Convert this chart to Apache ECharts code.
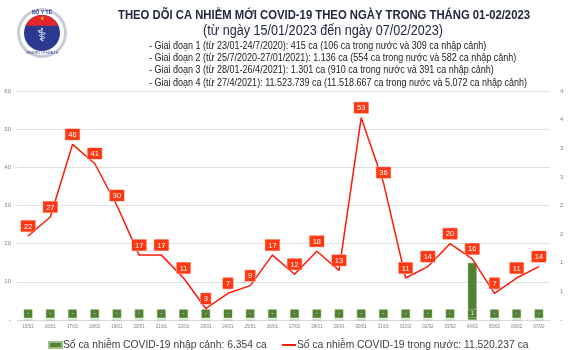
<!DOCTYPE html>
<html>
<head>
<meta charset="utf-8">
<script src="https://cdn.jsdelivr.net/npm/echarts@6/dist/echarts.min.js"></script>
<style>
  html, body { margin: 0; padding: 0; background: #fff; }
  #chart { width: 570px; height: 350px; }
</style>
</head>
<body>
<div id="chart"></div>
<script>
// ngày trong kỳ theo dõi
const days = ['15/01', '16/01', '17/01', '18/01', '19/01', '20/01', '21/01', '22/01', '23/01', '24/01', '25/01', '26/01',
  '27/01', '28/01', '29/01', '30/01', '31/01', '01/02', '02/02', '03/02', '04/02', '05/02', '06/02', '07/02']
// ca trong nước (trục trái)
const domestic = [22, 27, 46, 41, 30, 17, 17, 11, 3, 7, 9, 17, 12, 18, 13, 53, 36, 11, 14, 20, 16, 7, 11, 14]
// ca nhập cảnh (trục phải)
const imported = [0, 0, 0, 0, 0, 0, 0, 0, 0, 0, 0, 0, 0, 0, 0, 0, 0, 0, 0, 0, 1, 0, 0, 0]

const titleText = 'THEO DÕI CA NHIỄM MỚI COVID-19 THEO NGÀY TRONG THÁNG 01-02/2023'
const subText = '(từ ngày 15/01/2023 đến ngày 07/02/2023)'
const stages = [
  '- Giai đoạn 1 (từ 23/01-24/7/2020): 415 ca (106 ca trong nước và 309 ca nhập cảnh)',
  '- Giai đoạn 2 (từ 25/7/2020-27/01/2021): 1.136 ca (554 ca trong nước và 582 ca nhập cảnh)',
  '- Giai đoạn 3 (từ 28/01-26/4/2021): 1.301 ca (910 ca trong nước và 391 ca nhập cảnh)',
  '- Giai đoạn 4 (từ 27/4/2021): 11.523.739 ca (11.518.667 ca trong nước và 5.072 ca nhập cảnh)'
]
const importName = 'Số ca nhiễm COVID-19 nhập cảnh: 6.354 ca'
const domesticName = 'Số ca nhiễm COVID-19 trong nước: 11.520.237 ca'

const sans = '"Liberation Sans", Arial, sans-serif'

// đo chữ để ép ngang giống font Calibri của ảnh gốc
const ctx = document.createElement('canvas').getContext('2d')
function squeeze (text, font, target) {
  ctx.font = font
  return target / ctx.measureText(text).width
}

function textEl (text, x, y, size, weight, color, align, target) {
  const sx = squeeze(text, weight + ' ' + size + 'px ' + sans, target)
  return {
    type: 'text', x, y, scaleX: sx,
    style: { text, fill: color, fontSize: size, fontWeight: weight, fontFamily: sans, align, verticalAlign: 'middle' }
  }
}

// logo Bộ Y tế (trang trí)
function logo () {
  const cx = 42, cy = 33
  const seg = []
  for (let i = 0; i <= 20; i++) {
    const a = Math.PI * (1.13 + 0.74 * i / 20)
    seg.push([cx + 18 * Math.cos(a), cy + 18 * Math.sin(a)])
  }
  return [
    { type: 'circle', shape: { cx, cy, r: 25 }, style: { fill: '#c8ccd8' } },
    { type: 'circle', shape: { cx, cy, r: 22 }, style: { fill: '#fff' } },
    { type: 'circle', shape: { cx, cy, r: 18 }, style: { fill: '#2b3990' } },
    { type: 'polygon', shape: { points: seg }, style: { fill: '#e3262d' } },
    { type: 'text', x: cx, y: cy - 14.5, style: { text: '★', fill: '#ffd400', fontSize: 5, align: 'center', verticalAlign: 'middle' } },
    { type: 'text', x: cx, y: cy - 20, style: { text: 'BỘ Y TẾ', fill: '#2b3990', fontSize: 5, fontWeight: 'bold', align: 'center', verticalAlign: 'middle' } },
    { type: 'text', x: cx, y: cy + 3, style: { text: '⚕', fill: '#fff', fontSize: 18, align: 'center', verticalAlign: 'middle' } },
    { type: 'text', x: cx, y: cy + 20, style: { text: 'MINISTRY OF HEALTH', fill: '#2b3990', fontSize: 3, align: 'center', verticalAlign: 'middle' } }
  ]
}

const stageScale = squeeze(stages[3], 'normal 10.5px ' + sans, 378)
const headings = [
  textEl(titleText, 324, 15, 13, 'bold', '#22283f', 'center', 412),
  textEl(subText, 323, 31.5, 14, 'normal', '#22283f', 'center', 240),
  ...stages.map((s, i) => ({
    type: 'text', x: 149, y: 46 + i * 12.3, scaleX: stageScale,
    style: { text: s, fill: '#222', fontSize: 10.5, fontFamily: sans, align: 'left', verticalAlign: 'middle' }
  }))
]

const chart = echarts.init(document.getElementById('chart'))
const option = {
  animation: false,
  backgroundColor: '#fff',
  graphic: [...logo(), ...headings],
  legend: [
    {
      left: 43, top: 335,
      itemWidth: 13, itemHeight: 6, itemGap: 0,
      textStyle: { fontSize: 10.3, color: '#404040', fontFamily: sans, padding: [0, 0, 0, -4] },
      data: [{ name: importName, icon: 'rect' }]
    },
    {
      left: 277, top: 335,
      itemWidth: 14, itemHeight: 2, itemGap: 0,
      textStyle: { fontSize: 10.3, color: '#404040', fontFamily: sans, padding: [0, 0, 0, -4] },
      data: [{ name: domesticName, icon: 'rect' }]
    }
  ],
  grid: { left: 17, right: 20, top: 91, bottom: 30 },
  xAxis: {
    type: 'category',
    data: days,
    axisTick: { show: false },
    axisLine: { lineStyle: { color: '#d9d9d9' } },
    axisLabel: { fontSize: 4.5, color: '#7f7f7f', margin: 4, interval: 0 }
  },
  yAxis: [
    {
      type: 'value', min: 0, max: 60, interval: 10,
      axisLabel: { fontSize: 6, color: '#7f7f7f', margin: 6, formatter: v => (v === 0 ? '-' : v) },
      splitLine: { lineStyle: { color: '#e0e0e0' } }
    },
    {
      type: 'value', min: 0, max: 4, interval: 0.5,
      axisLabel: { fontSize: 6, color: '#7f7f7f', margin: 10, formatter: v => (v === 0 ? '-' : Math.round(v)) },
      splitLine: { show: false }
    }
  ],
  series: [
    {
      name: importName,
      type: 'bar',
      yAxisIndex: 1,
      data: imported,
      barWidth: 9,
      itemStyle: { color: '#548235', borderColor: '#9cc08a', borderWidth: 0.5 },
      z: 2,
      label: {
        show: true,
        position: 'insideBottom',
        distance: 2.5,
        formatter: p => (p.value === 0 ? '-' : p.value),
        backgroundColor: '#548235',
        borderColor: '#a9c99a',
        borderWidth: 0.5,
        width: 8, height: 8, lineHeight: 8, padding: 0,
        align: 'center',
        fontSize: 5, color: '#fff'
      }
    },
    {
      name: domesticName,
      type: 'line',
      data: domestic,
      symbol: 'circle',
      symbolSize: 1,
      z: 3,
      lineStyle: { color: '#ff1a0a', width: 1.5 },
      itemStyle: { color: '#ff1a0a' },
      label: {
        show: true,
        position: 'top',
        distance: 4,
        backgroundColor: '#ff3814',
        borderColor: '#ffb3a3',
        borderWidth: 0.5,
        padding: [2, 3, 1, 3],
        fontSize: 7.5, color: '#fff', fontFamily: sans
      }
    }
  ]
}
chart.setOption(option)
</script>
</body>
</html>
